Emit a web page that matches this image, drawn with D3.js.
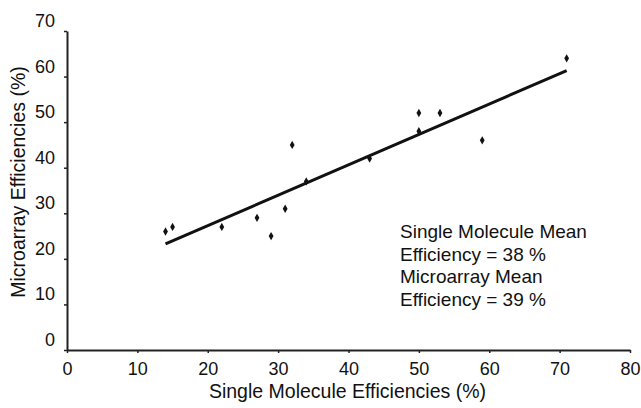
<!DOCTYPE html>
<html>
<head>
<meta charset="utf-8">
<script src="https://cdn.jsdelivr.net/npm/d3@7"></script>
<style>
  body { margin: 0; background: #fff; }
  text { font-family: "Liberation Sans", Arial, sans-serif; fill: #111; }
</style>
</head>
<body>
<div id="chart"></div>
<script>
// data
var singleMolecule = [14, 15, 22, 27, 29, 31, 32, 34, 43, 50, 50, 53, 59, 71];
var microarray     = [26, 27, 27, 29, 25, 31, 45, 37, 42, 48, 52, 52, 46, 64];
var trendX = [14, 71];
var trendY = [23.3, 61.3];
var xTicks = [0, 10, 20, 30, 40, 50, 60, 70, 80];
var yTicks = [0, 10, 20, 30, 40, 50, 60, 70];
var noteLines = ["Single Molecule Mean", "Efficiency = 38 %", "Microarray Mean", "Efficiency = 39 %"];

var margin = {top: 31, right: 11, bottom: 58, left: 67},
    width = 641 - margin.left - margin.right,
    height = 408 - margin.top - margin.bottom;

var svg = d3.select("#chart")
  .append("svg")
    .attr("width", 641)
    .attr("height", 408)
  .append("g")
    .attr("transform", "translate(" + margin.left + "," + margin.top + ")");

var x = d3.scaleLinear().domain([0, 80]).range([0, width]);
var y = d3.scaleLinear().domain([0, 70]).range([height, 0]);

// X axis
var xAxis = svg.append("g")
  .attr("transform", "translate(0," + height + ")")
  .call(d3.axisBottom(x).tickValues(xTicks).tickSize(3).tickSizeOuter(0));
xAxis.select(".domain").attr("stroke", "#222").attr("stroke-width", 2);
xAxis.selectAll(".tick line").attr("stroke", "#222").attr("stroke-width", 1.5);
xAxis.selectAll("text")
  .attr("y", 12)
  .style("font-size", "18px")
  .style("font-family", "Liberation Sans, Arial, sans-serif")
  .attr("fill", "#111");

// Y axis
var yAxis = svg.append("g")
  .call(d3.axisLeft(y).tickValues(yTicks).tickSize(3).tickSizeOuter(0));
yAxis.select(".domain").attr("stroke", "#222").attr("stroke-width", 2);
yAxis.selectAll(".tick line").attr("stroke", "#222").attr("stroke-width", 1.5);
yAxis.selectAll("text")
  .attr("x", -12)
  .attr("dy", "-0.25em")
  .style("font-size", "18px")
  .style("font-family", "Liberation Sans, Arial, sans-serif")
  .attr("fill", "#111");

// axis titles
svg.append("text")
  .attr("x", width / 2 - 1)
  .attr("y", height + 48)
  .style("text-anchor", "middle")
  .style("font-size", "19.5px")
  .text("Single Molecule Efficiencies (%)");

svg.append("text")
  .attr("transform", "rotate(-90)")
  .attr("x", -(182 - margin.top))
  .attr("y", -margin.left + 25)
  .style("text-anchor", "middle")
  .style("font-size", "19.5px")
  .text("Microarray Efficiencies (%)");

// trend line
var line = d3.line()
  .x(function(d) { return x(d[0]); })
  .y(function(d) { return y(d[1]); });
svg.append("path")
  .datum(d3.zip(trendX, trendY))
  .attr("d", line)
  .attr("fill", "none")
  .attr("stroke", "#111")
  .attr("stroke-width", 3);

// points
svg.selectAll("myPoints")
  .data(d3.zip(singleMolecule, microarray))
  .enter()
  .append("path")
    .attr("d", d3.symbol().type(d3.symbolDiamond).size(20))
    .attr("transform", function(d) { return "translate(" + x(d[0]) + "," + y(d[1]) + ")"; })
    .attr("fill", "#111");

// note
svg.selectAll("myNote")
  .data(noteLines)
  .enter()
  .append("text")
    .attr("x", 400 - margin.left)
    .attr("y", function(d, i) { return 238 - margin.top + i * 22.7; })
    .style("font-size", "19px")
    .text(function(d) { return d; });
</script>
</body>
</html>
